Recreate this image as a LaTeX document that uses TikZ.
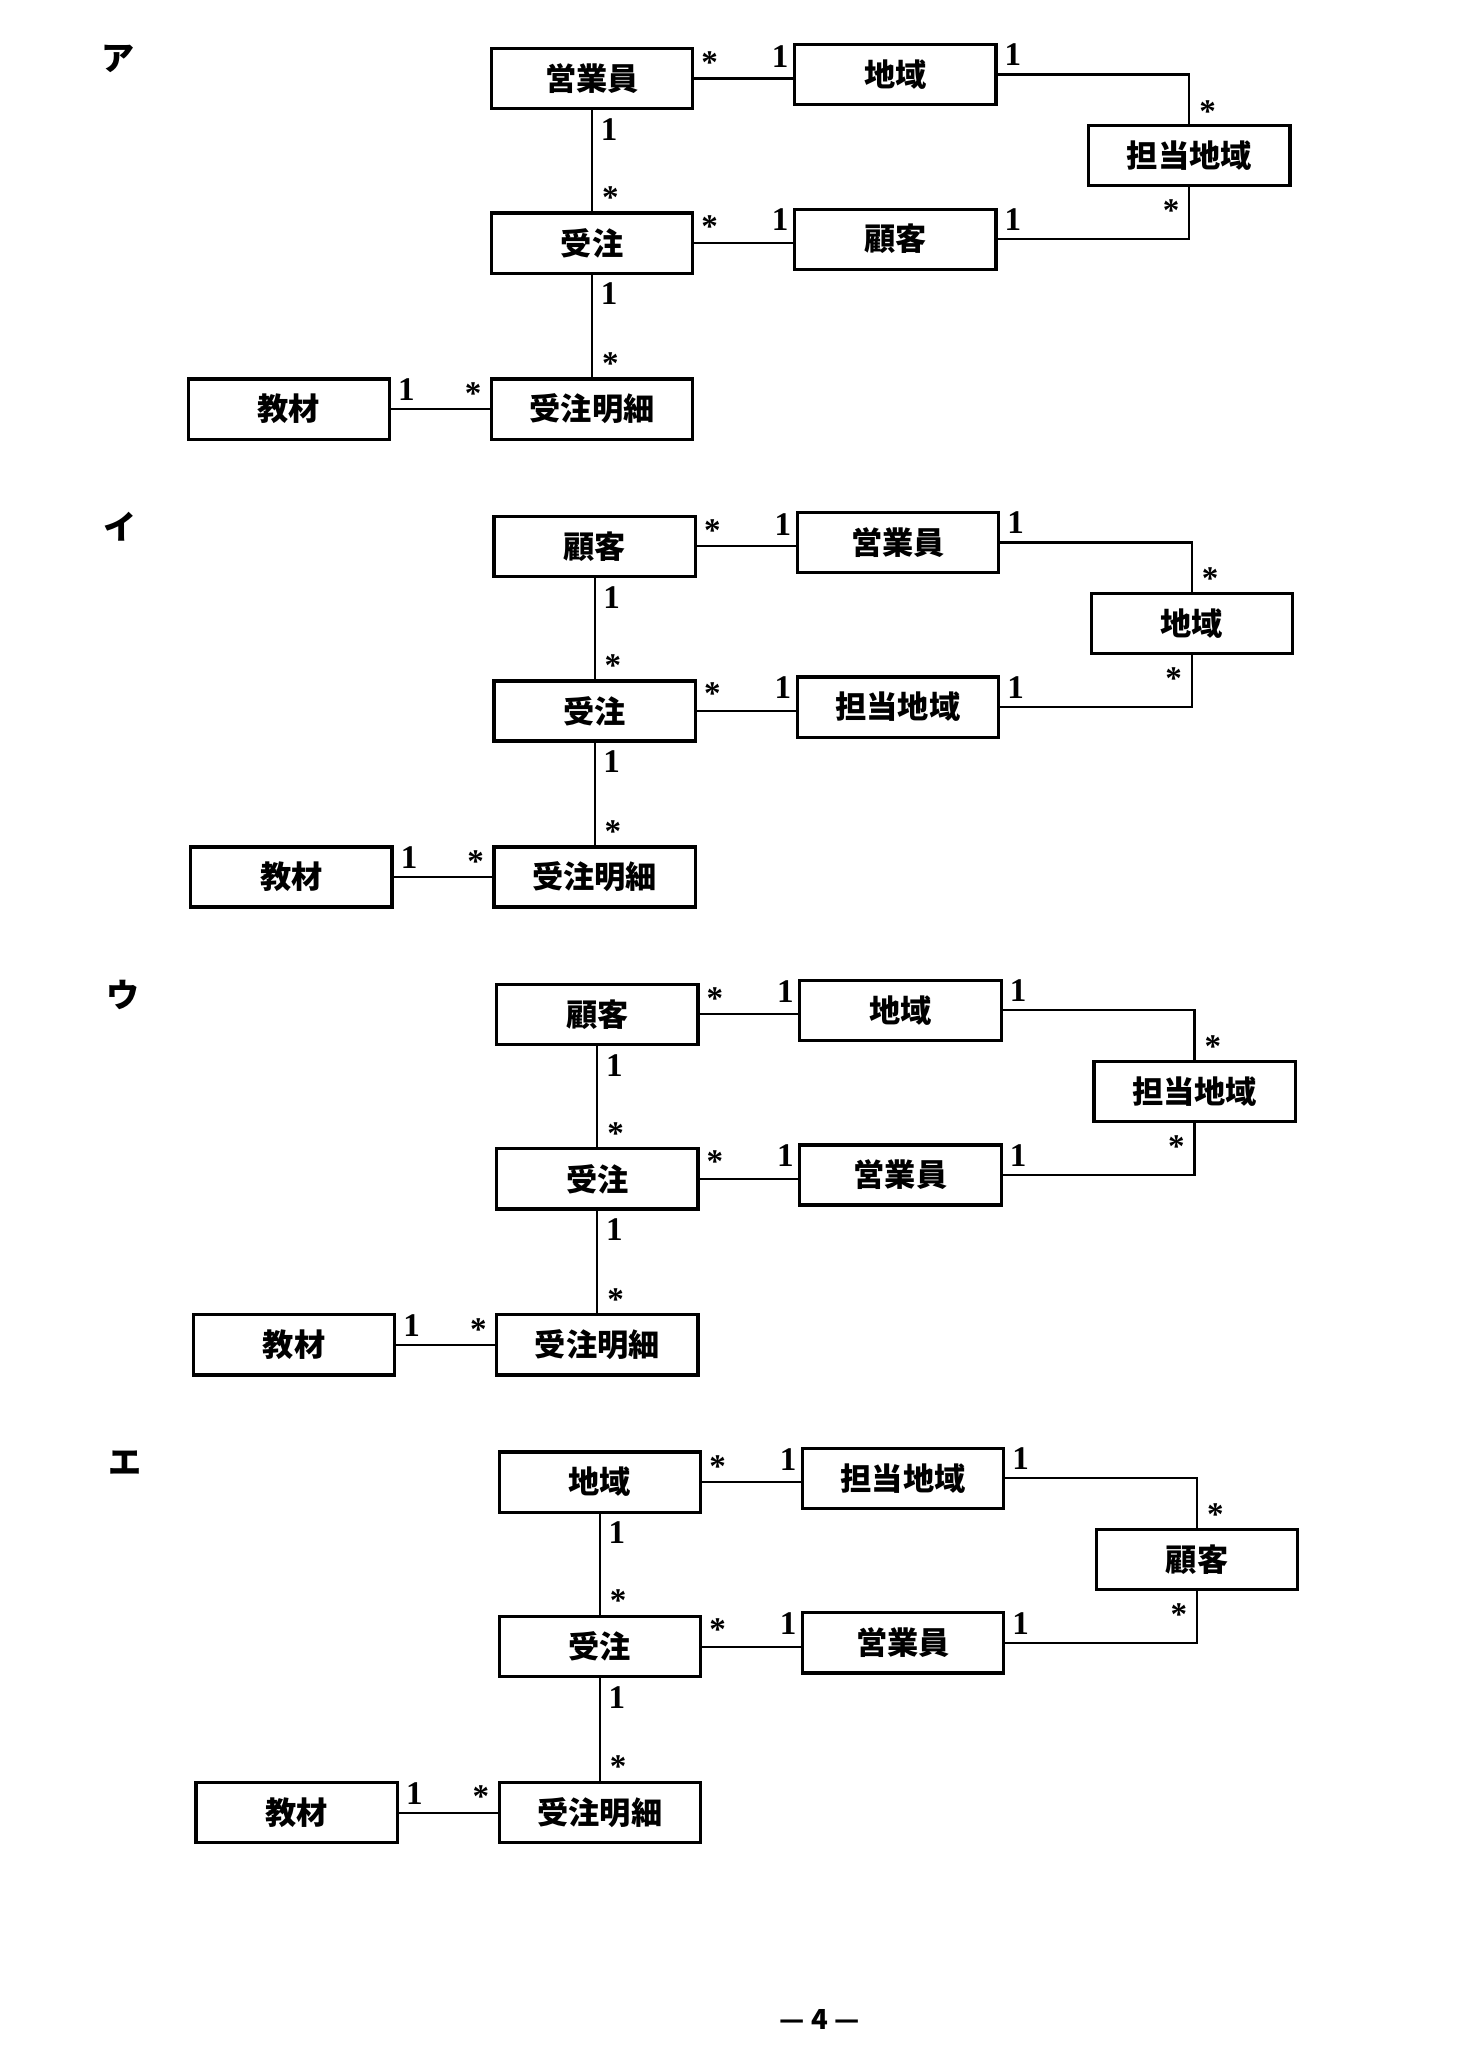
\documentclass[tikz,border=0pt]{standalone}
\usepackage{fontspec}
\setmainfont{Liberation Serif}
\newfontfamily\jfont{Noto Sans CJK JP}
\begin{document}
\begin{tikzpicture}[x=0.5mm, y=-0.5mm,
    ent/.style={draw, line width=3.5pt, minimum width=77mm, minimum height=23mm, inner sep=0pt, font=\jfont\bfseries\fontsize{34}{38}\selectfont},
    lnk/.style={line width=2.5pt},
    mul/.style={font=\bfseries\fontsize{36}{40}\selectfont, inner sep=0pt},
    lbl/.style={font=\jfont\bfseries\fontsize{36}{40}\selectfont}]
  \useasboundingbox (0,0) rectangle (1130,1567);
  \foreach \i/\tag/\ta/\tb/\tc/\td in {0/ア/営業員/地域/担当地域/顧客, 1/イ/顧客/営業員/地域/担当地域, 2/ウ/顧客/地域/担当地域/営業員, 3/エ/地域/担当地域/顧客/営業員}{
    \begin{scope}[shift={(2*\i,358*\i)}]
      \node[lbl] (t\i) at (90,45) {\tag};
      \node[ent] (a\i) at (453,60) {\ta};
      \node[ent] (b\i) at (685,57) {\tb};
      \node[ent] (c\i) at (910,119) {\tc};
      \node[ent] (j\i) at (453,186) {受注};
      \node[ent] (d\i) at (685,183) {\td};
      \node[ent] (k\i) at (221,313) {教材};
      \node[ent] (m\i) at (453,313) {受注明細};
      \draw[lnk] (a\i.east) -- (a\i.east -| b\i.west);
      \draw[lnk] (b\i.east) -| (c\i.north);
      \draw[lnk] (j\i.east) -- (j\i.east -| d\i.west);
      \draw[lnk] (d\i.east) -| (c\i.south);
      \draw[lnk] (a\i.south) -- (j\i.north);
      \draw[lnk] (j\i.south) -- (m\i.north);
      \draw[lnk] (k\i.east) -- (m\i.west);
      \node[mul] at (543,48) {*};
      \node[mul] at (597,43) {1};
      \node[mul] at (775,42) {1};
      \node[mul] at (924,85) {*};
      \node[mul] at (896,161) {*};
      \node[mul] at (775,168) {1};
      \node[mul] at (543,173) {*};
      \node[mul] at (597,168) {1};
      \node[mul] at (466,99) {1};
      \node[mul] at (467,151) {*};
      \node[mul] at (466,225) {1};
      \node[mul] at (467,278) {*};
      \node[mul] at (311,298) {1};
      \node[mul] at (362,301) {*};
    \end{scope}
  }
  \node[lbl, font=\jfont\bfseries\fontsize{30}{34}\selectfont] (page) at (627,1545) {— 4 —};
\end{tikzpicture}
\end{document}
